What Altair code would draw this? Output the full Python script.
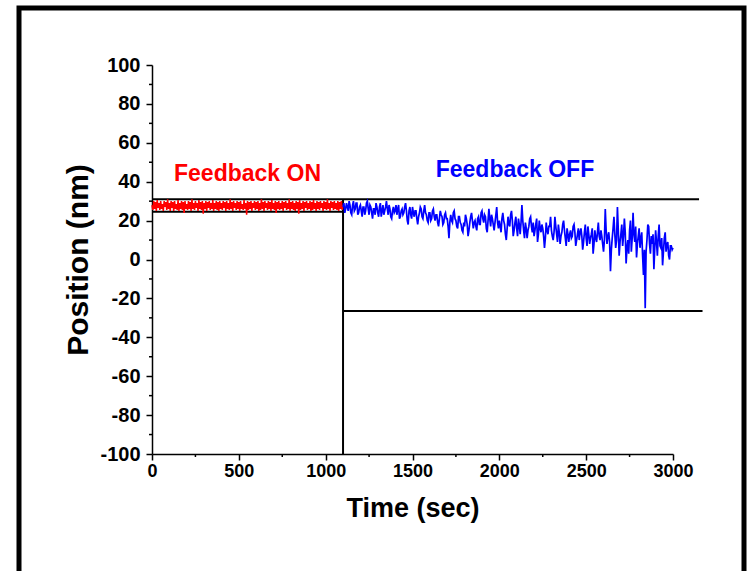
import altair as alt
import pandas as pd

FONT = "Liberation Sans, Arial, Helvetica, sans-serif"

# Feedback ON trace (every 5 s from 0 to 1100 s), nm
on_values = [
    28, 25.5, 30, 26, 29.5, 25, 30.5, 26.5, 29, 25.5,
    30, 26, 28.5, 25, 30, 27, 29.5, 25.5, 31, 26,
    29, 25, 30, 26.5, 29.5, 25, 30, 26, 28.5, 25.5,
    30.5, 25, 29, 26, 30, 25.5, 29.5, 24, 30, 26,
    28.5, 25.5, 30, 26, 29.5, 25, 31, 26, 29, 25.5,
    30, 26.5, 29, 25, 30.5, 26, 29.5, 25.5, 30, 23.5,
    29, 26, 30, 25, 29.5, 26.5, 30, 25.5, 29, 26,
    30.5, 25, 29, 26, 30, 25.5, 29.5, 25, 30, 26,
    29, 25.5, 30, 26.5, 29.5, 25, 30, 26, 29, 25.5,
    31, 26, 29.5, 25, 30, 26.5, 29, 25.5, 30, 26,
    29.5, 25, 30, 26, 28.5, 25.5, 30.5, 26, 29, 23,
    30, 25.5, 29.5, 26, 30, 25, 29, 26.5, 30, 25.5,
    29.5, 26, 30, 25, 29, 25.5, 31, 26, 29.5, 25,
    30, 26.5, 29, 25.5, 30, 26, 29.5, 25, 30.5, 26,
    29, 25.5, 30, 24, 29.5, 26, 30, 25.5, 29, 26,
    30, 25, 29.5, 26.5, 30, 25.5, 29, 26, 31, 25,
    29.5, 26, 30, 25.5, 29, 25, 30, 26, 29.5, 23.5,
    30.5, 25.5, 29, 26, 30, 25, 29.5, 26.5, 30, 25.5,
    29, 26, 30, 25, 29.5, 25.5, 30.5, 26, 29, 25,
    30, 26, 29.5, 25.5, 30, 26.5, 29, 25, 30, 26,
    29.5, 25.5, 31, 26, 29, 25, 30, 26.5, 29.5, 25.5,
    30, 26, 29, 25.5, 30, 25, 29.5, 26, 30, 25.5,
    28,
]
on_times = list(range(0, 1101, 5))

# Feedback OFF trace (every 5 s from 1100 to 3000 s), nm
off_values = [
    27, 29, 24, 26, 29, 27, 25, 30, 28, 24,
    23, 28, 30, 25, 26, 29, 29, 23, 24, 27,
    28, 25, 22, 27, 27, 23, 25, 29, 30, 26,
    23, 28, 27, 24, 21, 26, 26, 23, 29, 27,
    24, 22, 27, 29, 22, 25, 28, 23, 25, 27,
    30, 26, 23, 28, 26, 22, 21, 25, 27, 24,
    25, 28, 23, 26, 28, 21, 22, 25, 26, 23,
    24, 27, 29, 25, 20, 18, 25, 27, 23, 21,
    27, 24, 22, 25, 25, 21, 18, 22, 24, 27,
    26, 22, 21, 25, 28, 24, 23, 20, 19, 24,
    24, 20, 21, 25, 26, 22, 20, 23, 23, 19,
    17, 21, 25, 23, 22, 18, 19, 23, 24, 21,
    21, 17, 11, 19, 23, 20, 19, 24, 25, 21,
    20, 17, 16, 22, 22, 19, 18, 15, 14, 19,
    17, 23, 21, 18, 12, 15, 19, 22, 24, 20,
    16, 19, 20, 17, 15, 21, 22, 18, 18, 24,
    25, 21, 19, 23, 22, 16, 14, 20, 26, 21,
    17, 23, 21, 18, 15, 19, 23, 27, 19, 16,
    20, 17, 14, 21, 24, 20, 18, 13, 10, 16,
    22, 18, 17, 23, 25, 20, 12, 15, 19, 22,
    16, 12, 21, 18, 13, 19, 28, 20, 15, 11,
    19, 16, 11, 15, 17, 21, 22, 17, 14, 19,
    12, 15, 18, 21, 9, 13, 20, 16, 14, 18,
    16, 12, 6, 11, 19, 15, 13, 17, 17, 22,
    15, 12, 10, 14, 22, 17, 13, 9, 18, 14,
    8, 12, 14, 18, 20, 15, 11, 7, 16, 13,
    9, 13, 15, 11, 12, 17, 18, 14, 7, 10,
    13, 16, 10, 14, 16, 12, 5, 9, 14, 18,
    11, 7, 17, 13, 8, 11, 13, 16, 3, 8,
    15, 11, 9, 14, 19, 12, 10, 15, 12, 8,
    4, 10, 26, 15, 8, 12, 14, 9, -6, 5,
    11, 16, 22, 13, 6, 10, 27, 15, 2, 9,
    13, 18, 7, 12, 21, 14, -2, 6, 10, 3,
    15, 20, 4, 11, 24, 13, 9, 17, 1, 8,
    12, 16, 6, 11, 14, 2, -8, 5, -25, 4,
    10, 18, 17, 8, 3, 12, 8, 13, -5, 6,
    15, 9, 2, 12, 18, 7, 6, 11, -3, 4,
    11, 14, 4, 8, 9, 2, 0, 7, 7, 5,
    6,
]
off_times = list(range(1100, 3001, 5))

# Guide lines (black)
guide_x = [0, 0, 1100, 1100]
guide_x2 = [3150, 1100, 1100, 3170]
guide_y = [31, 24.5, -100, -26.5]
guide_y2 = [31, 24.5, 31, -26.5]

# Annotations
label_text = ["Feedback ON", "Feedback OFF"]
label_x = [550, 2090]
label_y = [44, 46]
label_color = ["#FF0000", "#0000FF"]

# Axis ticks
x_major = [0, 500, 1000, 1500, 2000, 2500, 3000]
x_minor = [250, 750, 1250, 1750, 2250, 2750]
y_major = [-100, -80, -60, -40, -20, 0, 20, 40, 60, 80, 100]
y_minor = [-90, -70, -50, -30, -10, 10, 30, 50, 70, 90]

on_df = pd.DataFrame({"t": on_times, "v": on_values})
off_df = pd.DataFrame({"t": off_times, "v": off_values})
guide_df = pd.DataFrame({"x": guide_x, "x2": guide_x2, "y": guide_y, "y2": guide_y2})
label_df = pd.DataFrame({"text": label_text, "x": label_x, "y": label_y, "c": label_color})
xminor_df = pd.DataFrame({"x": x_minor})
yminor_df = pd.DataFrame({"y": y_minor})

x_scale = alt.Scale(domain=[0, 3000], nice=False, zero=False)
y_scale = alt.Scale(domain=[-100, 100], nice=False, zero=False)

x_axis = alt.Axis(
    title="Time (sec)", values=x_major, labelExpr="'' + datum.value", tickSize=6,
    labelFont=FONT, labelFontSize=18, labelFontWeight="bold", labelColor="black",
    labelPadding=2, labelFlush=False, labelOverlap=False,
    titleFont=FONT, titleFontSize=27, titleFontWeight="bold", titleColor="black",
    titlePadding=15, grid=False, domainColor="black", domainWidth=1.5,
    tickColor="black", tickWidth=1.5,
)
y_axis = alt.Axis(
    title="Position (nm)", values=y_major, labelExpr="'' + datum.value", tickSize=6,
    labelFont=FONT, labelFontSize=20, labelFontWeight="bold", labelColor="black",
    labelPadding=6, labelFlush=False, labelOverlap=False,
    titleFont=FONT, titleFontSize=30, titleFontWeight="bold", titleColor="black",
    titlePadding=6, grid=False, domainColor="black", domainWidth=1.5,
    tickColor="black", tickWidth=1.5,
)


def X(field):
    return alt.X(field, type="quantitative", scale=x_scale, axis=x_axis)


def Y(field):
    return alt.Y(field, type="quantitative", scale=y_scale, axis=y_axis)


guides = alt.Chart(guide_df).mark_rule(color="black", strokeWidth=2).encode(
    x=X("x"), x2="x2:Q", y=Y("y"), y2="y2:Q",
)

x_minor_ticks = alt.Chart(xminor_df).mark_rule(color="black", strokeWidth=1.5).encode(
    x=X("x"), y=alt.value(389), y2=alt.value(392),
)
y_minor_ticks = alt.Chart(yminor_df).mark_rule(color="black", strokeWidth=1.5).encode(
    y=Y("y"), x=alt.value(0), x2=alt.value(-3),
)

on_line = alt.Chart(on_df).mark_line(color="#FF0000", strokeWidth=1.5).encode(
    x=X("t"), y=Y("v"),
)
off_line = alt.Chart(off_df).mark_line(color="#0000FF", strokeWidth=1.7).encode(
    x=X("t"), y=Y("v"),
)

labels = alt.Chart(label_df).mark_text(
    font=FONT, fontSize=23, fontWeight="bold", baseline="middle", align="center"
).encode(
    x=X("x"), y=Y("y"),
    text="text:N",
    color=alt.Color("c:N", scale=None, legend=None),
)

frame = alt.Chart(pd.DataFrame({"a": [0]})).mark_rect(
    fill="white", fillOpacity=0, stroke="black", strokeWidth=5
).encode(
    x=alt.value(-133), x2=alt.value(592), y=alt.value(-57), y2=alt.value(540)
)

chart = alt.layer(
    frame, guides, x_minor_ticks, y_minor_ticks, on_line, off_line, labels
).properties(
    width=521,
    height=389,
    autosize=alt.AutoSizeParams(type="none"),
    padding={"left": 152, "top": 65, "right": 75, "bottom": 117},
    background="white",
).configure_view(stroke=None)

chart.save("out.html", embed_options={"renderer": "svg", "actions": False})
